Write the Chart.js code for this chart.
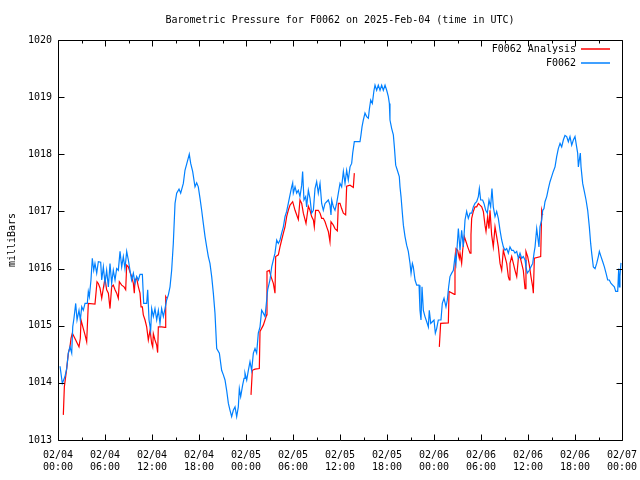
<!DOCTYPE html>
<html>
<head>
<meta charset="utf-8">
<script src="https://cdn.jsdelivr.net/npm/chart.js@4/dist/chart.umd.min.js"></script>
<style>
html,body{margin:0;padding:0;background:#fff;}
canvas{display:block;}
</style>
</head>
<body>
<canvas id="c" width="640" height="480"></canvas>
<script>
// ---- data (time in hours since 2025-02-04 00:00 UTC, pressure in mb) ----
const tickDates = ['02/04','02/04','02/04','02/04','02/05','02/05','02/05','02/05','02/06','02/06','02/06','02/06','02/07'];
const tickTimes = ['00:00','06:00','12:00','18:00','00:00','06:00','12:00','18:00','00:00','06:00','12:00','18:00','00:00'];

const obsHours = [0.26,0.55,0.89,1.11,1.32,1.53,1.75,1.88,2.04,2.26,2.43,2.68,2.85,3.03,3.23,3.45,3.74,3.87,4.00,4.21,4.38,4.56,4.72,4.94,5.15,5.45,5.58,5.79,6.00,6.21,6.43,6.64,6.85,7.06,7.28,7.49,7.70,7.92,8.13,8.34,8.55,8.77,8.98,9.19,9.40,9.62,9.83,10.04,10.26,10.47,10.77,10.94,11.32,11.45,11.62,11.83,11.96,12.17,12.38,12.60,12.81,13.02,13.23,13.45,13.66,13.87,14.09,14.30,14.51,14.72,14.94,15.15,15.45,15.66,16.00,16.21,16.51,16.76,16.94,17.19,17.49,17.70,17.91,18.13,18.34,18.55,18.77,18.98,19.19,19.40,19.62,19.83,20.04,20.26,20.60,20.89,21.11,21.32,21.53,21.75,21.96,22.17,22.38,22.60,22.81,23.02,23.15,23.32,23.57,23.75,23.87,24.09,24.30,24.51,24.72,24.94,25.15,25.36,25.57,25.79,26.00,26.21,26.43,26.64,26.77,27.06,27.28,27.49,27.70,27.92,28.13,28.34,28.55,28.77,28.98,29.19,29.40,29.62,29.83,29.96,30.04,30.26,30.47,30.68,30.89,31.11,31.23,31.40,31.62,31.74,31.96,32.17,32.38,32.60,32.81,33.02,33.23,33.45,33.66,33.87,34.09,34.30,34.51,34.72,34.85,34.94,35.15,35.36,35.57,35.79,36.00,36.21,36.43,36.64,36.85,37.06,37.28,37.49,37.62,37.83,38.55,38.68,38.81,38.98,39.19,39.40,39.62,39.74,39.92,40.13,40.34,40.47,40.68,40.89,41.11,41.32,41.53,41.75,41.96,42.17,42.30,42.38,42.60,42.81,42.94,43.11,43.32,43.57,43.66,43.79,43.96,44.09,44.30,44.51,44.72,44.94,45.07,45.24,45.36,45.58,45.79,46.09,46.21,46.34,46.47,46.64,46.85,47.07,47.28,47.40,47.58,47.79,48.00,48.17,48.34,48.55,48.89,49.06,49.28,49.53,49.70,49.87,50.04,50.26,50.47,50.68,50.81,50.98,51.11,51.32,51.53,51.74,51.96,52.17,52.38,52.60,52.81,53.02,53.23,53.45,53.66,53.79,53.96,54.21,54.38,54.60,54.81,55.02,55.23,55.40,55.57,55.79,56.00,56.21,56.43,56.64,56.85,57.06,57.28,57.49,57.70,57.92,58.13,58.34,58.56,58.77,58.98,59.19,59.40,59.62,59.74,59.91,60.17,60.38,60.60,60.77,60.90,61.11,61.24,61.40,61.53,61.75,61.88,62.04,62.17,62.39,62.60,62.81,63.02,63.23,63.45,63.66,63.87,64.09,64.30,64.51,64.72,64.94,65.15,65.36,65.58,65.79,66.00,66.21,66.34,66.43,66.55,66.68,66.77,66.98,67.19,67.41,67.62,67.83,68.00,68.13,68.34,68.56,68.77,68.98,69.11,69.32,69.54,69.75,69.96,70.17,70.38,70.60,70.81,71.02,71.20,71.45,71.58,71.66,71.74,71.87];
const obsPress = [1014.29,1013.99,1014.11,1014.25,1014.52,1014.63,1014.52,1014.98,1015.13,1015.39,1015.10,1015.27,1015.10,1015.33,1015.27,1015.39,1015.39,1015.60,1015.51,1015.80,1016.18,1015.97,1016.09,1015.92,1016.12,1016.11,1015.80,1016.03,1015.74,1015.97,1015.68,1016.09,1015.74,1015.97,1015.80,1016.00,1015.97,1016.30,1016.03,1016.21,1016.00,1016.30,1016.15,1015.97,1015.80,1015.92,1015.74,1015.86,1015.80,1015.90,1015.90,1015.39,1015.39,1015.63,1015.10,1014.92,1015.30,1015.16,1015.30,1015.10,1015.27,1015.04,1015.30,1015.16,1015.30,1015.45,1015.54,1015.68,1015.97,1016.44,1017.14,1017.32,1017.39,1017.32,1017.49,1017.72,1017.87,1018.00,1017.84,1017.70,1017.43,1017.50,1017.43,1017.23,1017.02,1016.79,1016.56,1016.38,1016.21,1016.09,1015.86,1015.57,1015.22,1014.60,1014.52,1014.22,1014.14,1014.05,1013.87,1013.64,1013.52,1013.41,1013.52,1013.58,1013.41,1013.58,1013.90,1013.76,1013.96,1014.08,1014.17,1014.05,1014.22,1014.37,1014.22,1014.52,1014.60,1014.52,1014.87,1014.98,1015.27,1015.22,1015.16,1015.45,1015.63,1015.80,1016.03,1016.15,1016.27,1016.50,1016.44,1016.50,1016.62,1016.73,1016.91,1017.00,1017.14,1017.29,1017.43,1017.50,1017.32,1017.43,1017.32,1017.37,1017.26,1017.46,1017.70,1017.20,1017.26,1017.08,1017.37,1017.23,1016.97,1017.02,1017.40,1017.52,1017.32,1017.49,1017.14,1017.02,1017.14,1017.17,1017.20,1017.11,1016.94,1017.20,1017.08,1017.02,1017.14,1017.32,1017.49,1017.43,1017.70,1017.49,1017.72,1017.55,1017.78,1017.84,1018.02,1018.22,1018.22,1018.34,1018.48,1018.60,1018.72,1018.66,1018.63,1018.78,1018.95,1018.89,1019.12,1019.21,1019.12,1019.21,1019.12,1019.21,1019.12,1019.21,1019.12,1019.01,1018.89,1018.60,1018.45,1018.34,1018.13,1017.81,1017.72,1017.61,1017.43,1017.26,1016.97,1016.76,1016.56,1016.41,1016.30,1016.09,1015.92,1016.09,1016.03,1015.80,1015.71,1015.71,1015.27,1015.10,1015.68,1015.27,1015.16,1015.07,1014.98,1015.27,1015.04,1015.07,1015.10,1014.87,1014.95,1015.10,1015.10,1015.39,1015.48,1015.33,1015.45,1015.68,1015.86,1015.92,1015.97,1016.21,1016.09,1016.44,1016.70,1016.32,1016.67,1016.38,1016.85,1017.00,1016.88,1016.97,1016.97,1017.08,1017.14,1017.17,1017.26,1017.40,1017.20,1017.20,1017.14,1017.02,1016.97,1017.20,1017.08,1017.40,1017.08,1016.91,1017.00,1016.88,1016.67,1016.50,1016.38,1016.32,1016.35,1016.27,1016.38,1016.32,1016.32,1016.27,1016.30,1016.18,1016.27,1016.18,1016.21,1016.15,1016.03,1015.92,1015.97,1016.03,1016.09,1016.27,1016.38,1016.70,1016.56,1016.38,1016.73,1016.85,1017.02,1017.05,1017.17,1017.26,1017.40,1017.52,1017.61,1017.70,1017.78,1017.96,1018.10,1018.19,1018.13,1018.25,1018.33,1018.31,1018.22,1018.31,1018.16,1018.25,1018.31,1018.13,1018.02,1017.78,1017.90,1018.02,1017.78,1017.49,1017.35,1017.20,1017.02,1016.73,1016.44,1016.27,1016.03,1016.00,1016.09,1016.21,1016.30,1016.21,1016.12,1016.03,1015.92,1015.80,1015.80,1015.74,1015.71,1015.68,1015.60,1015.60,1016.00,1015.68,1015.86,1016.10];

const anaHours = [0.68,0.81,1.11,1.32,1.53,1.66,1.83,2.04,2.26,2.47,2.68,2.85,2.94,3.23,3.45,3.66,3.79,3.87,4.72,4.85,4.98,5.15,5.36,5.58,5.79,6.00,6.21,6.43,6.64,6.85,7.06,7.28,7.49,7.70,7.83,8.13,8.43,8.64,8.77,8.98,9.19,9.40,9.62,9.74,9.83,10.04,10.26,10.47,10.60,10.77,10.89,11.11,11.32,11.45,11.53,11.75,11.96,12.09,12.17,12.38,12.60,12.72,12.81,13.23,13.66,13.75,13.87,
  19.0,
  24.64,24.81,25.15,25.70,25.79,26.21,26.64,26.68,26.98,27.19,27.49,27.70,27.79,28.13,28.34,28.55,28.77,28.98,29.19,29.40,29.62,29.96,30.26,30.68,30.89,31.11,31.32,31.66,31.96,32.17,32.38,32.60,32.72,32.89,33.23,33.45,33.66,33.87,34.09,34.30,34.51,34.72,34.85,35.15,35.36,35.66,35.79,36.00,36.21,36.43,36.72,36.85,37.28,37.70,37.83,
  43.0,
  48.68,48.85,49.83,49.92,50.60,50.68,50.81,51.02,51.23,51.32,51.53,51.66,51.87,52.09,52.30,52.60,52.72,52.81,53.02,53.23,53.45,53.66,53.87,54.09,54.30,54.51,54.64,54.85,55.02,55.15,55.36,55.57,55.79,56.00,56.21,56.43,56.64,56.85,57.06,57.28,57.49,57.62,57.70,57.92,58.13,58.34,58.56,58.77,58.98,59.19,59.40,59.62,59.74,59.96,60.17,60.38,60.60,60.68,60.81,61.62,61.75,61.88];
const anaPress = [1013.44,1013.93,1014.25,1014.52,1014.63,1014.78,1014.87,1014.81,1014.75,1014.69,1014.63,1014.78,1015.10,1014.95,1014.84,1014.72,1015.13,1015.39,1015.38,1015.57,1015.77,1015.74,1015.66,1015.48,1015.66,1015.83,1015.63,1015.57,1015.30,1015.68,1015.71,1015.63,1015.57,1015.48,1015.77,1015.71,1015.68,1015.63,1016.06,1016.03,1015.94,1015.86,1015.74,1015.57,1015.80,1015.83,1015.68,1015.57,1015.33,1015.33,1015.19,1015.10,1014.98,1014.84,1014.75,1014.92,1014.69,1014.63,1014.86,1014.75,1014.66,1014.53,1014.98,1014.98,1014.97,1015.51,1015.48,
  null,
  1013.79,1014.22,1014.24,1014.25,1014.90,1015.01,1015.19,1015.95,1015.97,1015.86,1015.74,1015.57,1016.21,1016.24,1016.38,1016.50,1016.62,1016.73,1016.91,1017.02,1017.11,1017.17,1017.02,1016.86,1017.20,1017.14,1016.97,1016.79,1017.09,1017.02,1016.91,1016.85,1016.73,1017.02,1017.02,1016.97,1016.88,1016.88,1016.82,1016.73,1016.65,1016.47,1016.82,1016.76,1016.70,1016.66,1017.14,1017.14,1017.05,1016.97,1016.94,1017.44,1017.46,1017.42,1017.67,
  null,
  1014.63,1015.04,1015.05,1015.60,1015.55,1015.97,1016.35,1016.32,1016.18,1016.27,1016.09,1016.32,1016.56,1016.47,1016.38,1016.27,1016.59,1016.88,1017.00,1017.08,1017.08,1017.14,1017.11,1017.08,1017.00,1016.76,1016.65,1016.91,1016.70,1017.02,1016.59,1016.38,1016.73,1016.56,1016.38,1016.09,1015.97,1016.32,1016.21,1016.09,1015.86,1015.80,1016.09,1016.21,1016.09,1015.97,1015.86,1016.18,1016.21,1016.09,1015.97,1015.65,1016.30,1016.21,1016.06,1015.86,1015.68,1015.57,1016.18,1016.21,1017.02,1016.94];

const seriesNames = ['F0062 Analysis', 'F0062'];
const seriesColors = ['#ff0000', '#0080ff'];
const titleText = 'Barometric Pressure for F0062 on 2025-Feb-04 (time in UTC)';
const yTitle = 'milliBars';
const yMin = 1013, yMax = 1020, xMin = 0, xMax = 72;

const FONT = "'DejaVu Sans Mono', 'Liberation Mono', monospace";
Chart.defaults.font.family = FONT;
Chart.defaults.font.size = 10;
Chart.defaults.color = '#000';

function toXY(hs, ps) { return hs.map((h, i) => ({x: h, y: ps[i]})); }

const framePlugin = {
  id: 'frame',
  afterDatasetsDraw(chart) {
    const {ctx, chartArea: a, scales} = chart;
    const xs = scales.x, ys = scales.y;
    const L = Math.round(a.left) + 0.5, R = Math.round(a.right) + 0.5;
    const T = Math.round(a.top) + 0.5, B = Math.round(a.bottom) + 0.5;
    ctx.save();
    ctx.strokeStyle = '#000';
    ctx.lineWidth = 1;
    ctx.beginPath();
    ctx.rect(L, T, R - L, B - T);
    ys.ticks.forEach(t => {
      const py = Math.round(ys.getPixelForValue(t.value)) + 0.5;
      ctx.moveTo(L, py); ctx.lineTo(L + 6, py);
      ctx.moveTo(R, py); ctx.lineTo(R - 6, py);
    });
    for (let h = xMin; h <= xMax; h += 3) {
      const len = (h % 6 === 0) ? 6 : 3;
      const px = Math.round(xs.getPixelForValue(h)) + 0.5;
      ctx.moveTo(px, B); ctx.lineTo(px, B - len);
      ctx.moveTo(px, T); ctx.lineTo(px, T + len);
    }
    ctx.stroke();
    // legend (top right, inside plot)
    ctx.font = '10px ' + FONT;
    ctx.textAlign = 'right';
    ctx.textBaseline = 'middle';
    chart.data.datasets.forEach((ds, i) => {
      const yy = Math.round(a.top) + 9 + i * 14;
      ctx.fillStyle = '#000';
      ctx.fillText(ds.label, Math.round(a.right) - 46, yy);
      ctx.beginPath();
      ctx.strokeStyle = seriesColors[i];
      ctx.lineWidth = 1.5;
      ctx.moveTo(Math.round(a.right) - 41, yy);
      ctx.lineTo(Math.round(a.right) - 12, yy);
      ctx.stroke();
    });
    ctx.restore();
  }
};

new Chart(document.getElementById('c'), {
  type: 'line',
  data: {
    datasets: [
      { label: seriesNames[0], data: toXY(anaHours, anaPress), borderColor: seriesColors[0], backgroundColor: seriesColors[0], borderWidth: 1.2, pointRadius: 0, tension: 0, spanGaps: false, order: 1 },
      { label: seriesNames[1], data: toXY(obsHours, obsPress), borderColor: seriesColors[1], backgroundColor: seriesColors[1], borderWidth: 1.2, pointRadius: 0, tension: 0, spanGaps: false, order: 0 }
    ]
  },
  options: {
    responsive: false,
    animation: false,
    events: [],
    layout: { padding: { left: 0, right: 18, top: 0, bottom: 0 } },
    plugins: {
      legend: { display: false },
      tooltip: { enabled: false },
      title: { display: true, fullSize: false, text: titleText, color: '#000', font: { family: FONT, size: 10, weight: 'normal' }, padding: { top: 14, bottom: 14 } }
    },
    scales: {
      x: {
        type: 'linear', min: xMin, max: xMax,
        grid: { display: false, drawTicks: false },
        border: { display: false },
        afterFit(s) { s.height = 40; s.paddingLeft = 0; s.paddingRight = 0; },
        ticks: {
          stepSize: 6, autoSkip: false, maxRotation: 0, minRotation: 0, padding: 9, color: '#000',
          font: { family: FONT, size: 10 },
          callback: (v) => { const i = Math.round(v / 6); return [tickDates[i], tickTimes[i]]; }
        }
      },
      y: {
        min: yMin, max: yMax,
        grid: { display: false, drawTicks: false },
        border: { display: false },
        afterFit(s) { s.width = 58; },
        title: { display: true, text: yTitle, color: '#000', font: { family: FONT, size: 10 }, padding: { top: 6, bottom: 0 } },
        ticks: { stepSize: 1, padding: 6, color: '#000', font: { family: FONT, size: 10 }, callback: (v) => String(v) }
      }
    }
  },
  plugins: [framePlugin]
});
</script>
</body>
</html>
